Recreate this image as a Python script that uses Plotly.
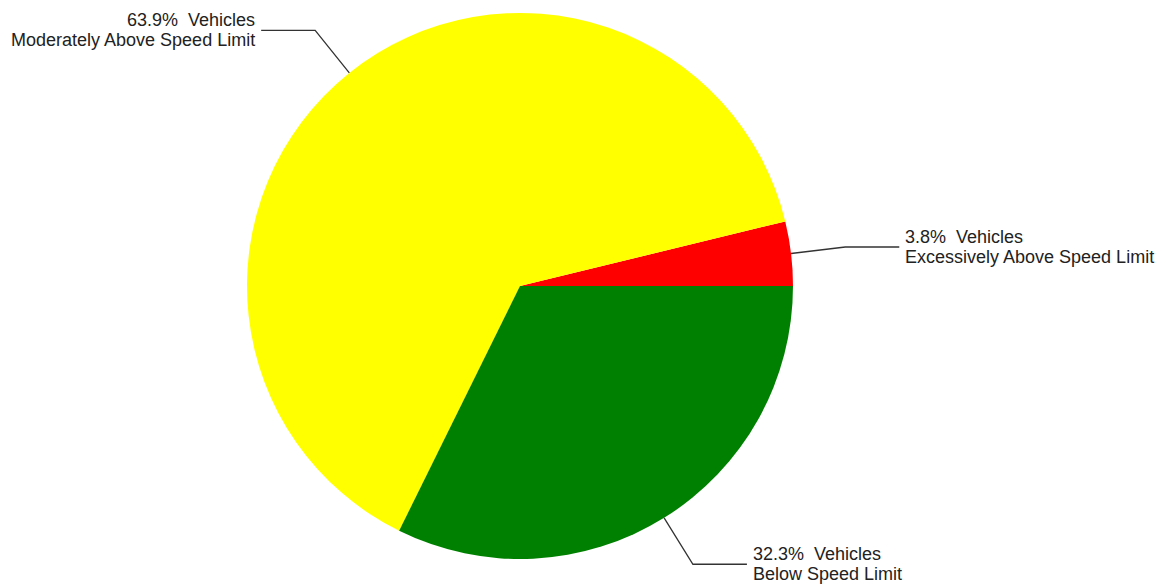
import math
import plotly.graph_objects as go

# Data
categories = ["Excessively Above Speed Limit", "Moderately Above Speed Limit", "Below Speed Limit"]
percentages = [3.8, 63.9, 32.3]
colors = ["#FF0000", "#FFFF00", "#008000"]

W, H = 1175, 586
CX, CY, R = 520, 286, 273

total = sum(percentages)
# first slice starts at 3 o'clock going counterclockwise
rotation = 90 - percentages[0] / total * 360

fig = go.Figure(go.Pie(
    labels=categories,
    values=percentages,
    marker=dict(colors=colors, line=dict(width=0)),
    sort=False,
    direction="counterclockwise",
    rotation=rotation,
    textinfo="none",
    hoverinfo="label+percent",
    domain=dict(x=[(CX - R) / W, (CX + R) / W], y=[(H - CY - R) / H, (H - CY + R) / H]),
    showlegend=False,
))

def px(x):
    return x / W

def py(y):
    return 1 - y / H

shapes = []
annotations = []
start = 0.0
font = dict(family="Liberation Sans, Arial, sans-serif", size=18, color="#222222")
for cat, pct in zip(categories, percentages):
    ang = start + pct / total * 360 / 2
    start += pct / total * 360
    a = math.radians(ang)
    x0, y0 = CX + R * math.cos(a), CY - R * math.sin(a)
    x1, y1 = CX + 1.2 * R * math.cos(a), CY - 1.2 * R * math.sin(a)
    side = 1 if math.cos(a) >= 0 else -1
    x2 = x1 + side * 54
    shapes.append(dict(
        type="path", xref="paper", yref="paper",
        path=f"M {px(x0)} {py(y0)} L {px(x1)} {py(y1)} L {px(x2)} {py(y1)}",
        line=dict(color="#333333", width=1.3),
    ))
    tx = x2 + side * 4
    anchor = "left" if side > 0 else "right"
    for text, dy in ((f"{pct}%  Vehicles", -10), (cat, 10)):
        annotations.append(dict(
            x=px(tx), y=py(y1 + dy), xref="paper", yref="paper",
            text=text, showarrow=False, xanchor=anchor, yanchor="middle",
            font=font,
        ))

fig.update_layout(
    width=W, height=H,
    margin=dict(l=0, r=0, t=0, b=0),
    paper_bgcolor="white",
    plot_bgcolor="white",
    shapes=shapes,
    annotations=annotations,
)

fig.write_html(
    "out.html",
    config={"displayModeBar": False},
    post_script="document.body.style.margin='0';document.body.style.overflow='hidden';",
)
